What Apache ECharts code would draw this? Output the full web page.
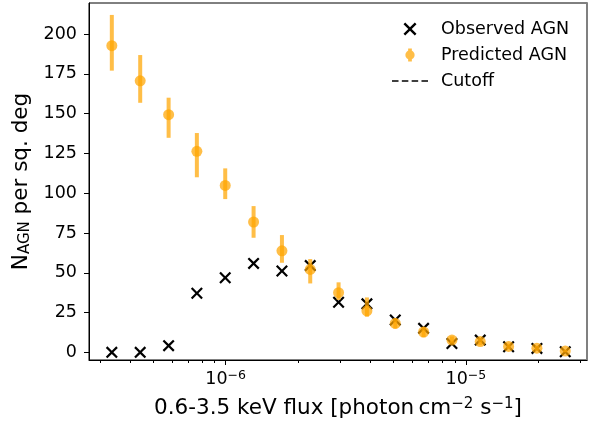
<!DOCTYPE html>
<html>
<head>
<meta charset="utf-8">
<script src="https://cdn.jsdelivr.net/npm/echarts@6/dist/echarts.min.js"></script>
<style>
  html, body { margin: 0; padding: 0; background: #fff; }
  #chart { width: 595px; height: 424px; }
</style>
</head>
<body>
<div id="chart"></div>
<script>
// Flux bin centres (photon cm^-2 s^-1)
const fluxBins = [3.36e-7, 4.41e-7, 5.79e-7, 7.59e-7, 9.96e-7, 1.307e-6, 1.715e-6, 2.249e-6,
                  2.951e-6, 3.872e-6, 5.08e-6, 6.664e-6, 8.744e-6, 1.147e-5, 1.505e-5, 1.974e-5, 2.59e-5];
// Observed AGN counts per square degree
const observedAGN = [0, 0, 4.2, 37.1, 46.9, 55.9, 51.1, 54.5, 31.5, 30.5, 20.3, 15.1, 5.6, 7.7, 3.5, 2.5, 0.4];
// Predicted AGN counts and their error range
const predictedAGN = [192.7, 170.6, 149.3, 126.3, 104.9, 81.9, 63.8, 52.1, 37.5, 26.1, 18.2, 12.8, 7.7, 6.8, 3.7, 2.6, 0.8];
const predictedLow = [177, 156.8, 134.8, 110, 96.3, 72, 56.3, 43.3, 32.9, 22.4, 15, 9.5, 5.5, 4.5, 2, 1, 0];
const predictedHigh = [212, 186.8, 160, 137.8, 115.6, 91.9, 73.7, 58.6, 44, 34.5, 21.5, 16, 10, 9, 5.5, 4.2, 1.7];
// Flux cutoff
const cutoffFlux = 4e-6;
// Axis ticks
const yTickValues = [0, 25, 50, 75, 100, 125, 150, 175, 200];
const xMajorTicks = [1e-6, 1e-5];
const xMinorTicks = [3e-7, 4e-7, 5e-7, 6e-7, 7e-7, 8e-7, 9e-7,
                     2e-6, 3e-6, 4e-6, 5e-6, 6e-6, 7e-6, 8e-6, 9e-6, 2e-5, 3e-5];
const xRange = [2.70e-7, 3.19e-5];
const yRange = [-4.8, 219.5];

const FONT = '"DejaVu Sans", sans-serif';
const ORANGE = 'rgba(255,165,0,0.72)';
const X_PATH = 'path://M0,13L13,0L50,37L87,0L100,13L63,50L100,87L87,100L50,63L13,100L0,87L37,50Z';
const PRED_ICON = 'path://M3,0h4v14h-4Z M0,7a5,5 0 1,1 10,0a5,5 0 1,1 -10,0Z';
const DASH_ICON = 'path://M0,0h6.5v1.6h-6.5Z M9.8,0h6.5v1.6h-6.5Z M19.6,0h6.5v1.6h-6.5Z M29.4,0h6.5v1.6h-6.5Z';

const chart = echarts.init(document.getElementById('chart'), null, { renderer: 'canvas' });

const option = {
  animation: false,
  backgroundColor: '#fff',
  textStyle: { fontFamily: FONT },
  grid: {
    left: 89, right: 8, top: 3, bottom: 64,
    show: true, borderColor: '#000', borderWidth: 1
  },
  legend: {
    orient: 'vertical',
    left: 387, top: 15,
    itemWidth: 36, itemHeight: 13, itemGap: 8,
    textStyle: { fontSize: 17.5, color: '#000', fontFamily: FONT, padding: [0, 0, 0, 8] },
    selectedMode: false,
    data: [
      { name: 'Observed AGN', icon: X_PATH, itemStyle: { color: '#000', opacity: 1 } },
      { name: 'Predicted AGN', icon: PRED_ICON, itemStyle: { color: ORANGE, opacity: 1 } },
      { name: 'Cutoff', icon: DASH_ICON, itemStyle: { color: '#000', opacity: 1 } }
    ]
  },
  xAxis: [
    {
      type: 'log', logBase: 10,
      min: xRange[0], max: xRange[1],
      name: '0.6-3.5 keV flux [photon\u2009cm{sup|\u22122} s{sup|\u22121}]',
      nameLocation: 'middle', nameGap: 37,
      nameTextStyle: {
        fontSize: 21.5, color: '#000', fontFamily: FONT,
        rich: { sup: { fontSize: 15, verticalAlign: 'top', fontFamily: FONT, color: '#000' } }
      },
      axisLine: { show: true, onZero: false, lineStyle: { color: '#000', width: 1 } },
      axisTick: { show: true, customValues: xMajorTicks, length: 5, lineStyle: { color: '#000', width: 1 } },
      axisLabel: {
        customValues: xMajorTicks, margin: 9,
        formatter: function (v) {
          const e = Math.round(Math.log10(v));
          return '{b|10}{sup|' + (e < 0 ? '\u2212' : '') + Math.abs(e) + '}';
        },
        rich: {
          b: { fontSize: 17.5, color: '#000', fontFamily: FONT, lineHeight: 20 },
          sup: { fontSize: 12.5, color: '#000', fontFamily: FONT, verticalAlign: 'top' }
        }
      },
      splitLine: { show: false },
      minorTick: { show: false }
    },
    {
      type: 'log', logBase: 10,
      min: xRange[0], max: xRange[1],
      position: 'bottom',
      axisLine: { show: false, onZero: false },
      axisTick: { show: true, customValues: xMinorTicks, length: 3, lineStyle: { color: '#000', width: 1 } },
      axisLabel: { show: false },
      splitLine: { show: false }
    }
  ],
  yAxis: [
    {
      type: 'value',
      min: yRange[0], max: yRange[1],
      name: 'N{sub|AGN} per sq. deg',
      nameLocation: 'middle', nameRotate: 90, nameGap: 52,
      nameTextStyle: {
        fontSize: 21.5, color: '#000', fontFamily: FONT,
        rich: { sub: { fontSize: 15, verticalAlign: 'bottom', fontFamily: FONT, color: '#000', padding: [7, 0, 0, 0] } }
      },
      axisLine: { show: true, onZero: false, lineStyle: { color: '#000', width: 1 } },
      axisTick: { show: true, customValues: yTickValues, length: 5, lineStyle: { color: '#000', width: 1 } },
      axisLabel: { customValues: yTickValues, margin: 12, fontSize: 17.5, color: '#000', fontFamily: FONT },
      splitLine: { show: false }
    },
    {
      type: 'value',
      min: yRange[0], max: yRange[1],
      position: 'right',
      axisLine: { show: true, onZero: false, lineStyle: { color: '#808080', width: 2 } },
      axisTick: { show: false },
      axisLabel: { show: false },
      splitLine: { show: false }
    }
  ],
  series: [
    {
      name: 'Observed AGN',
      type: 'scatter',
      symbol: X_PATH,
      symbolSize: 12,
      itemStyle: { color: '#000', opacity: 1 },
      z: 3,
      data: fluxBins.map((f, i) => [f, observedAGN[i]])
    },
    {
      name: 'Predicted AGN',
      type: 'custom',
      z: 4,
      renderItem: function (params, api) {
        const x = api.value(0);
        const top = api.coord([x, api.value(2)]);
        const bot = api.coord([x, api.value(1)]);
        return {
          type: 'line',
          shape: { x1: top[0], y1: top[1], x2: bot[0], y2: bot[1] },
          style: { stroke: ORANGE, lineWidth: 4 }
        };
      },
      encode: { x: 0, y: [1, 2] },
      data: fluxBins.map((f, i) => [f, predictedLow[i], predictedHigh[i]])
    },
    {
      name: 'Predicted AGN',
      type: 'scatter',
      symbol: 'circle',
      symbolSize: 11,
      itemStyle: { color: ORANGE, opacity: 1 },
      z: 5,
      data: fluxBins.map((f, i) => [f, predictedAGN[i]])
    },
    {
      name: 'Cutoff',
      type: 'line',
      data: [],
      z: 6,
      itemStyle: { color: '#000' },
      lineStyle: { color: '#000', type: [6, 3.5], width: 1.6 },
      markLine: {
        silent: true,
        symbol: 'none',
        label: { show: false },
        lineStyle: { color: '#000', type: [6, 3.5], width: 1.6 },
        data: [{ xAxis: cutoffFlux }]
      }
    }
  ]
};

chart.setOption(option);
</script>
</body>
</html>
